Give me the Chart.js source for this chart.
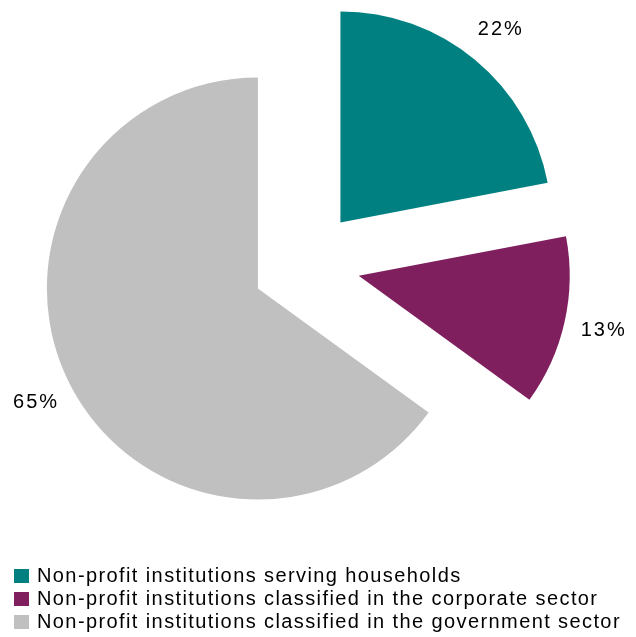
<!DOCTYPE html>
<html>
<head>
<meta charset="utf-8">
<script src="https://cdn.jsdelivr.net/npm/chart.js@4/dist/chart.umd.min.js"></script>
<style>
  html, body { margin: 0; padding: 0; background: #fff; }
  #wrap { width: 636px; height: 637px; position: relative; }
</style>
</head>
<body>
<div id="wrap"><canvas id="pie"></canvas></div>
<script>
const categories = [
    'Non-profit institutions serving households',
    'Non-profit institutions classified in the corporate sector',
    'Non-profit institutions classified in the government sector'
];
const shares = [22, 13, 65];
const sliceColours = ['#008080', '#7f1f5e', '#c0c0c0'];

const FONT = '"Liberation Sans", Arial, sans-serif';
const EXPLODE = 54;

// Chart.js scales the arc offset and grows the radius of wide slices,
// so the slices are painted here: same radius, pushed out by EXPLODE px
const explodedSlices = {
    id: 'explodedSlices',
    beforeDatasetDraw(chart, args) {
        const ctx = chart.ctx;
        const meta = chart.getDatasetMeta(args.index);
        meta.data.forEach(arc => {
            const p = arc.getProps(['x', 'y', 'startAngle', 'endAngle', 'outerRadius'], true);
            const mid = (p.startAngle + p.endAngle) / 2;
            const cx = p.x + Math.cos(mid) * EXPLODE;
            const cy = p.y + Math.sin(mid) * EXPLODE;
            ctx.save();
            ctx.beginPath();
            ctx.moveTo(cx, cy);
            ctx.arc(cx, cy, p.outerRadius, p.startAngle, p.endAngle);
            ctx.closePath();
            ctx.fillStyle = arc.options.backgroundColor;
            ctx.fill();
            ctx.restore();
        });
        return false;
    }
};

// percent labels just outside each slice
const sliceLabels = {
    id: 'sliceLabels',
    afterDatasetsDraw(chart) {
        const ctx = chart.ctx;
        const meta = chart.getDatasetMeta(0);
        ctx.save();
        ctx.font = '20px ' + FONT;
        ctx.fillStyle = '#000';
        ctx.textAlign = 'center';
        ctx.textBaseline = 'middle';
        ctx.letterSpacing = '2px';
        meta.data.forEach((arc, i) => {
            const p = arc.getProps(['x', 'y', 'startAngle', 'endAngle', 'outerRadius'], true);
            const mid = (p.startAngle + p.endAngle) / 2;
            const dist = p.outerRadius + EXPLODE + 39;
            ctx.fillText(shares[i] + '%', p.x + Math.cos(mid) * dist + 1, p.y + Math.sin(mid) * dist);
        });
        ctx.restore();
    }
};

// legend stacked in the bottom left corner
const stackedLegend = {
    id: 'stackedLegend',
    afterDraw(chart) {
        const ctx = chart.ctx;
        ctx.save();
        ctx.font = '20px ' + FONT;
        ctx.textBaseline = 'middle';
        ctx.textAlign = 'left';
        ctx.letterSpacing = '1.4px';
        categories.forEach((name, i) => {
            const y = 576 + i * 23;
            ctx.fillStyle = sliceColours[i];
            ctx.fillRect(14, y - 7, 15, 14);
            ctx.fillStyle = '#000';
            ctx.fillText(name, 37, y);
        });
        ctx.restore();
    }
};

new Chart(document.getElementById('pie'), {
    type: 'pie',
    data: {
        labels: categories,
        datasets: [{
            data: shares,
            backgroundColor: sliceColours,
            borderWidth: 0
        }]
    },
    options: {
        responsive: true,
        maintainAspectRatio: false,
        animation: false,
        radius: 211,
        layout: {
            padding: { top: 0, left: 0, right: 24, bottom: 109 }
        },
        plugins: {
            legend: { display: false },
            tooltip: { enabled: false }
        }
    },
    plugins: [explodedSlices, sliceLabels, stackedLegend]
});
</script>
</body>
</html>
